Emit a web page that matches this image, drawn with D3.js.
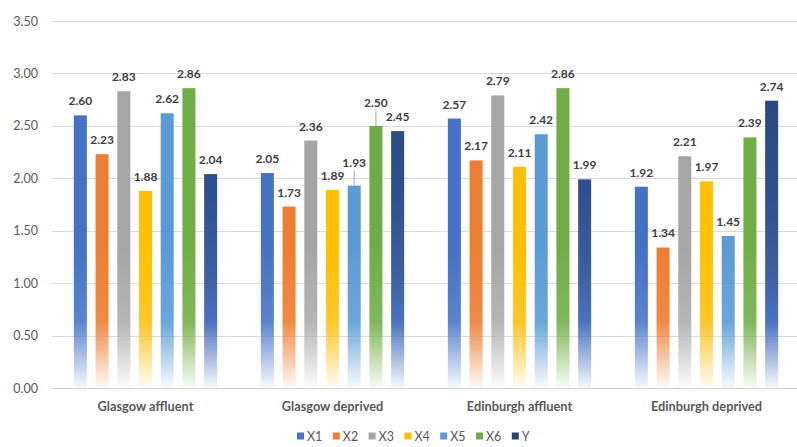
<!DOCTYPE html>
<html>
<head>
<meta charset="utf-8">
<script src="https://cdn.jsdelivr.net/npm/d3@7"></script>
<style>
  html, body { margin: 0; padding: 0; background: #fff; }
  svg { display: block; font-family: Lato, "Open Sans", sans-serif; }
</style>
</head>
<body>
<svg id="chart" width="797" height="447"></svg>
<script>
// Neighbourhood groups on the x axis
const categories = ["Glasgow affluent", "Glasgow deprived", "Edinburgh affluent", "Edinburgh deprived"];
// Series shown in each group
const seriesNames = ["X1", "X2", "X3", "X4", "X5", "X6", "Y"];
// Mean scores per series, one value per group
const x1 = [2.60, 2.05, 2.57, 1.92];
const x2 = [2.23, 1.73, 2.17, 1.34];
const x3 = [2.83, 2.36, 2.79, 2.21];
const x4 = [1.88, 1.89, 2.11, 1.97];
const x5 = [2.62, 1.93, 2.42, 1.45];
const x6 = [2.86, 2.50, 2.86, 2.39];
const y  = [2.04, 2.45, 1.99, 2.74];
// Value axis ticks
const yTicks = [0, 0.5, 1.0, 1.5, 2.0, 2.5, 3.0, 3.5];

const seriesValues = [x1, x2, x3, x4, x5, x6, y];
const seriesColors = ["#4472C4", "#ED7D31", "#A5A5A5", "#FFC000", "#5B9BD5", "#70AD47", "#264478"];
// lighter tone used in the lower part of each bar's gradient
const seriesMid = ["#5a84cf", "#f08a45", "#b5b5b5", "#ffc628", "#6aa6da", "#80b85a", "#4a72c0"];

const svg = d3.select("#chart");
const plot = { left: 52, right: 800, top: 21, bottom: 388 };

const x0 = d3.scaleBand().domain(categories).range([plot.left, plot.right]).padding(0);
const groupSpan = 152;
const x1s = d3.scaleBand().domain(seriesNames)
  .range([x0.bandwidth() / 2 - groupSpan / 2, x0.bandwidth() / 2 + groupSpan / 2])
  .paddingInner(0.4).paddingOuter(0.2);
const ys = d3.scaleLinear().domain([0, 3.5]).range([plot.bottom, plot.top]);

// Gradients: solid colour at the top, fading out towards the baseline
const defs = svg.append("defs");
seriesNames.forEach((name, i) => {
  const g = defs.append("linearGradient")
    .attr("id", "grad" + i)
    .attr("gradientUnits", "userSpaceOnUse")
    .attr("x1", 0).attr("x2", 0)
    .attr("y1", plot.top).attr("y2", plot.bottom);
  g.append("stop").attr("offset", 0).attr("stop-color", seriesColors[i]);
  if (i === 6) {
    g.append("stop").attr("offset", 0.45).attr("stop-color", "#2e4f8c");
    g.append("stop").attr("offset", 0.68).attr("stop-color", "#3c5f9f");
  } else {
    g.append("stop").attr("offset", 0.62).attr("stop-color", seriesColors[i]);
  }
  g.append("stop").attr("offset", 0.82).attr("stop-color", seriesMid[i]);
  g.append("stop").attr("offset", 1).attr("stop-color", seriesMid[i]).attr("stop-opacity", 0.05);
});

// Gridlines and value axis labels
const yAxis = d3.axisLeft(ys).tickValues(yTicks).tickFormat(d3.format(".2f")).tickSize(0).tickPadding(14);
const yAxisG = svg.append("g").attr("transform", `translate(${plot.left},0)`).call(yAxis);
yAxisG.select(".domain").remove();
yAxisG.selectAll("text").attr("fill", "#595959").style("font-size", "12.5px").attr("font-family", "Lato, 'Open Sans', sans-serif");

svg.append("g").selectAll("line").data(yTicks.filter(d => d > 0)).join("line")
  .attr("x1", plot.left).attr("x2", 797)
  .attr("y1", d => Math.round(ys(d)) + 0.5).attr("y2", d => Math.round(ys(d)) + 0.5)
  .attr("stroke", "#d9d9d9").attr("stroke-width", 1.2);

// Bars
const groups = svg.append("g").selectAll("g").data(categories).join("g")
  .attr("transform", d => `translate(${x0(d)},0)`);

const barData = (ci) => seriesNames.map((s, si) => ({ s, si, v: seriesValues[si][ci] }));

groups.each(function (cat, ci) {
  const g = d3.select(this);
  const data = barData(ci);
  g.selectAll("rect").data(data).join("rect")
    .attr("x", d => x1s(d.s))
    .attr("width", x1s.bandwidth())
    .attr("y", d => ys(d.v))
    .attr("height", d => ys(0) - ys(d.v))
    .attr("fill", d => `url(#grad${d.si})`);

  // label placement: above the bar; when neighbouring labels collide,
  // lift the taller bar's label and connect it with a leader line
  data.forEach(d => { d.ly = ys(d.v) - 10; d.lifted = false; });
  for (let i = 0; i < data.length - 1; i++) {
    const a = data[i], b = data[i + 1];
    if (Math.abs(a.ly - b.ly) < 11) {
      const t = a.v >= b.v ? a : b;
      t.ly = ys(t.v) - 19;
      t.lifted = true;
    }
  }
  g.selectAll("line.leader").data(data.filter(d => d.lifted)).join("line")
    .attr("class", "leader")
    .attr("x1", d => x1s(d.s) + x1s.bandwidth() / 2)
    .attr("x2", d => x1s(d.s) + x1s.bandwidth() / 2)
    .attr("y1", d => ys(d.v))
    .attr("y2", d => d.ly + 4)
    .attr("stroke", "#a6a6a6").attr("stroke-width", 1);
  g.selectAll("text").data(data).join("text")
    .attr("x", d => x1s(d.s) + x1s.bandwidth() / 2)
    .attr("y", d => d.ly)
    .attr("text-anchor", "middle")
    .attr("fill", "#404040")
    .style("font-size", "12px")
    .style("font-weight", "bold")
    .text(d => d3.format(".2f")(d.v));
});

// Baseline
svg.append("line")
  .attr("x1", plot.left).attr("x2", 797)
  .attr("y1", plot.bottom + 0.5).attr("y2", plot.bottom + 0.5)
  .attr("stroke", "#d0d0d0").attr("stroke-width", 1.2);

// Category axis labels
const xAxis = d3.axisBottom(x0).tickSize(0).tickPadding(14);
const xAxisG = svg.append("g").attr("transform", `translate(0,${plot.bottom})`).call(xAxis);
xAxisG.select(".domain").remove();
xAxisG.selectAll("text").attr("fill", "#595959").style("font-size", "12.8px").style("font-weight", "bold")
  .attr("font-family", "Lato, 'Open Sans', sans-serif");

// Legend
const legendStep = 35.8;
const legendX = 297;
const legend = svg.append("g").attr("transform", `translate(${legendX},436)`);
const items = legend.selectAll("g").data(seriesNames).join("g")
  .attr("transform", (d, i) => `translate(${i * legendStep},0)`);
items.append("rect").attr("x", 0).attr("y", -3.5).attr("width", 7).attr("height", 7)
  .attr("fill", (d, i) => seriesColors[i]);
items.append("text").attr("x", 10).attr("y", 4.5)
  .attr("fill", "#595959").style("font-size", "12.5px").text(d => d);
</script>
</body>
</html>
